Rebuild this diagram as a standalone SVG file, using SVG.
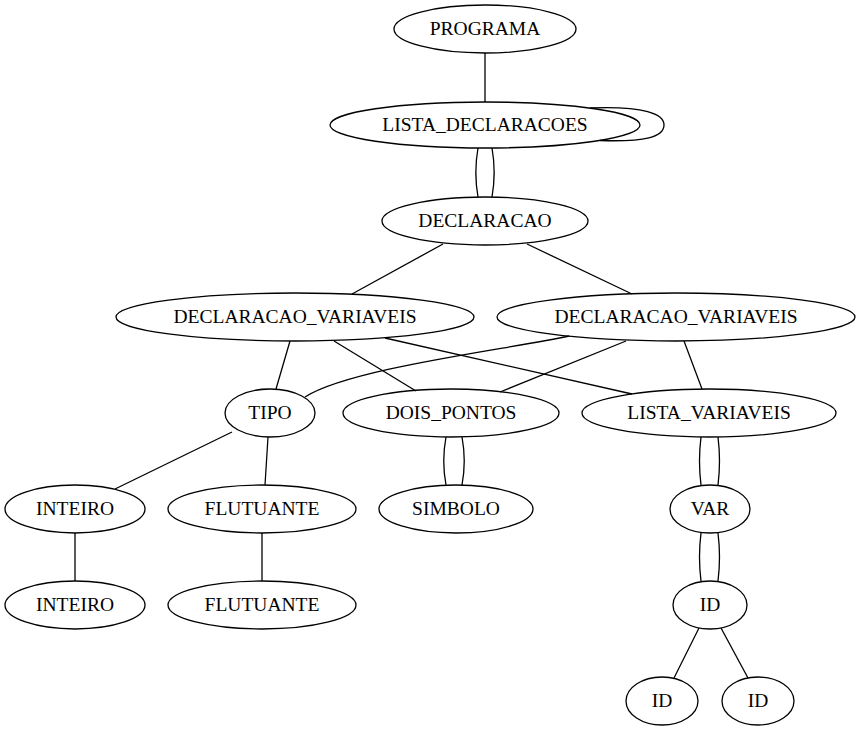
<svg xmlns="http://www.w3.org/2000/svg" width="860" height="731" viewBox="0 0 860 731">
<style>
  .n ellipse { fill: none; stroke: #000; stroke-width: 1.3; }
  .n text { font-family: "Liberation Serif", "Times New Roman", serif; font-size: 19.5px; text-anchor: middle; fill: #000; }
  .e path { fill: none; stroke: #000; stroke-width: 1.3; }
</style>
<rect width="860" height="731" fill="#fff"/>
<g id="edges" class="e">
  <path d="M485,53 L485,102"/>
  <path d="M590,108 C645,106 664,114 664,125 C664,137 645,142 600,140.5"/>
  <path d="M478,148 C475,165 475,180 478,197"/>
  <path d="M492,148 C495,165 495,180 492,197"/>
  <path d="M443,244 L352,294"/>
  <path d="M527,244 L632,294"/>
  <path d="M290,341 L276,389"/>
  <path d="M334,341 L416,391"/>
  <path d="M385,338 L632,394"/>
  <path d="M569,336 C510,349 350,368 305,397"/>
  <path d="M626,341 L500,392"/>
  <path d="M684,341 L702,389"/>
  <path d="M232,432 L115,489"/>
  <path d="M268,437 L265,485"/>
  <path d="M446,437 C443,453 443,469 446,485"/>
  <path d="M462,437 C465,453 465,469 462,485"/>
  <path d="M701,437 C699,453 699,469 701,485"/>
  <path d="M718,437 C720,453 720,469 718,485"/>
  <path d="M701,533 C699,549 699,565 701,581"/>
  <path d="M718,533 C720,549 720,565 718,581"/>
  <path d="M75,533 L75,581"/>
  <path d="M262,533 L262,581"/>
  <path d="M699,628 L674,678"/>
  <path d="M721,628 L748,678"/>
</g>
<g id="n_programa" class="n"><ellipse cx="485" cy="29" rx="91" ry="24"/><text x="485" y="34.5">PROGRAMA</text></g>
<g id="n_lista_declaracoes" class="n"><ellipse cx="485" cy="125" rx="155" ry="23"/><text x="485" y="130.5">LISTA_DECLARACOES</text></g>
<g id="n_declaracao" class="n"><ellipse cx="485" cy="221" rx="103" ry="24"/><text x="485" y="226.5">DECLARACAO</text></g>
<g id="n_decl_var1" class="n"><ellipse cx="295" cy="317" rx="179" ry="24"/><text x="295" y="322.5">DECLARACAO_VARIAVEIS</text></g>
<g id="n_decl_var2" class="n"><ellipse cx="676" cy="317" rx="179" ry="24"/><text x="676" y="322.5">DECLARACAO_VARIAVEIS</text></g>
<g id="n_tipo" class="n"><ellipse cx="270" cy="413" rx="45" ry="24"/><text x="270" y="418.5">TIPO</text></g>
<g id="n_dois_pontos" class="n"><ellipse cx="451" cy="413" rx="108" ry="24"/><text x="451" y="418.5">DOIS_PONTOS</text></g>
<g id="n_lista_variaveis" class="n"><ellipse cx="709" cy="413" rx="127" ry="24"/><text x="709" y="418.5">LISTA_VARIAVEIS</text></g>
<g id="n_inteiro" class="n"><ellipse cx="75" cy="509" rx="70" ry="24"/><text x="75" y="514.5">INTEIRO</text></g>
<g id="n_flutuante" class="n"><ellipse cx="262" cy="509" rx="94" ry="24"/><text x="262" y="514.5">FLUTUANTE</text></g>
<g id="n_simbolo" class="n"><ellipse cx="456" cy="509" rx="77" ry="24"/><text x="456" y="514.5">SIMBOLO</text></g>
<g id="n_var" class="n"><ellipse cx="710" cy="509" rx="40" ry="24"/><text x="710" y="514.5">VAR</text></g>
<g id="n_inteiro2" class="n"><ellipse cx="75" cy="605" rx="70" ry="24"/><text x="75" y="610.5">INTEIRO</text></g>
<g id="n_flutuante2" class="n"><ellipse cx="262" cy="605" rx="94" ry="24"/><text x="262" y="610.5">FLUTUANTE</text></g>
<g id="n_id" class="n"><ellipse cx="710" cy="605" rx="37" ry="24"/><text x="710" y="610.5">ID</text></g>
<g id="n_id_l" class="n"><ellipse cx="662" cy="701" rx="36" ry="24"/><text x="662" y="706.5">ID</text></g>
<g id="n_id_r" class="n"><ellipse cx="758" cy="701" rx="36" ry="24"/><text x="758" y="706.5">ID</text></g>
</svg>
